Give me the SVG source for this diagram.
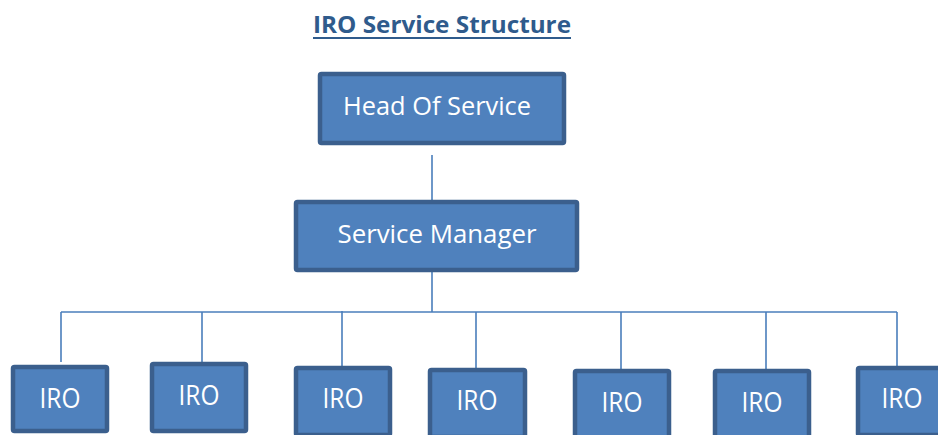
<svg xmlns="http://www.w3.org/2000/svg" width="938" height="435" viewBox="0 0 938 435">
<style>
.box{fill:#4f81bd;stroke:#3b5f8d;stroke-width:4.5}
.lbl{fill:#ffffff;font-family:"Open Sans","Liberation Sans",sans-serif;text-anchor:middle}
.conn{stroke:#4a7ebb;stroke-width:1.6;fill:none}
.title{fill:#2f5b8c;font-family:"Open Sans","Liberation Sans",sans-serif;font-weight:bold;font-size:23px}
</style>
<rect width="938" height="435" fill="#ffffff"/>
<g id="title">
<text class="title" x="313" y="33" textLength="258" lengthAdjust="spacingAndGlyphs">IRO Service Structure</text>
<line x1="313" y1="38" x2="571" y2="38" stroke="#2f5b8c" stroke-width="2"/>
</g>
<g id="connectors">
<line class="conn" x1="432" y1="155" x2="432" y2="200"/>
<line class="conn" x1="432" y1="272" x2="432" y2="312"/>
<line class="conn" x1="61" y1="312" x2="897" y2="312"/>
<line class="conn" x1="61" y1="312" x2="61" y2="362"/>
<line class="conn" x1="202" y1="312" x2="202" y2="362"/>
<line class="conn" x1="342" y1="311" x2="342" y2="370"/>
<line class="conn" x1="476" y1="312" x2="476" y2="371"/>
<line class="conn" x1="621" y1="312" x2="621" y2="372"/>
<line class="conn" x1="766" y1="312" x2="766" y2="372"/>
<line class="conn" x1="897" y1="312" x2="897" y2="367"/>
</g>
<g id="head">
<rect class="box" x="320" y="74" width="244" height="69" rx="1.5"/>
<text class="lbl" x="437" y="115" font-size="25" textLength="188" lengthAdjust="spacingAndGlyphs">Head Of Service</text>
</g>
<g id="manager">
<rect class="box" x="296" y="202" width="281" height="68" rx="1.5"/>
<text class="lbl" x="437" y="243" font-size="25" textLength="199" lengthAdjust="spacingAndGlyphs">Service Manager</text>
</g>
<g id="iro1">
<rect class="box" x="13" y="367" width="94" height="64" rx="1.5"/>
<text class="lbl" x="60" y="408" font-size="27" textLength="41" lengthAdjust="spacingAndGlyphs">IRO</text>
</g>
<g id="iro2">
<rect class="box" x="152" y="364" width="94" height="67" rx="1.5"/>
<text class="lbl" x="199" y="405" font-size="27" textLength="41" lengthAdjust="spacingAndGlyphs">IRO</text>
</g>
<g id="iro3">
<rect class="box" x="296" y="368" width="94" height="67" rx="1.5"/>
<text class="lbl" x="343" y="408" font-size="27" textLength="41" lengthAdjust="spacingAndGlyphs">IRO</text>
</g>
<g id="iro4">
<rect class="box" x="430" y="370" width="95" height="67" rx="1.5"/>
<text class="lbl" x="477" y="410" font-size="27" textLength="41" lengthAdjust="spacingAndGlyphs">IRO</text>
</g>
<g id="iro5">
<rect class="box" x="575" y="371" width="94" height="67" rx="1.5"/>
<text class="lbl" x="622" y="412" font-size="27" textLength="41" lengthAdjust="spacingAndGlyphs">IRO</text>
</g>
<g id="iro6">
<rect class="box" x="715" y="371" width="94" height="67" rx="1.5"/>
<text class="lbl" x="762" y="412" font-size="27" textLength="41" lengthAdjust="spacingAndGlyphs">IRO</text>
</g>
<g id="iro7">
<rect class="box" x="858" y="368" width="94" height="67" rx="1.5"/>
<text class="lbl" x="902" y="408" font-size="27" textLength="41" lengthAdjust="spacingAndGlyphs">IRO</text>
</g>
</svg>
